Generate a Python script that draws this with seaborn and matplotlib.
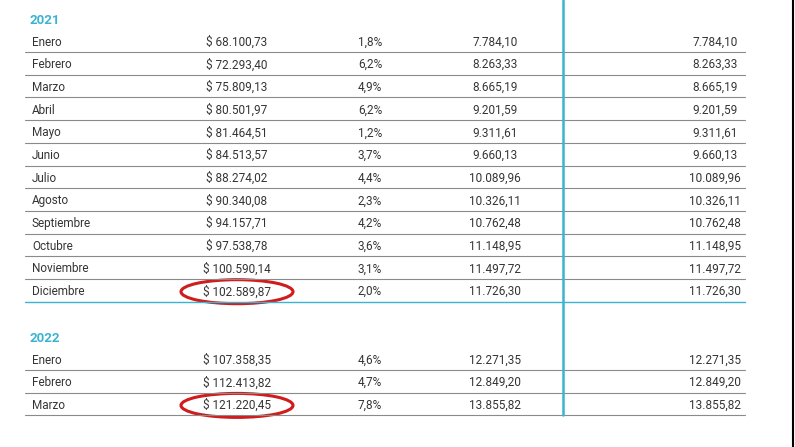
import matplotlib
matplotlib.use("Agg")
import matplotlib.pyplot as plt
from matplotlib.patches import Ellipse
import seaborn as sns

sns.set_theme(style="white", font="Roboto")

# data
meses_2021 = ["Enero", "Febrero", "Marzo", "Abril", "Mayo", "Junio", "Julio",
              "Agosto", "Septiembre", "Octubre", "Noviembre", "Diciembre"]
monto_2021 = ["$ 68.100,73", "$ 72.293,40", "$ 75.809,13", "$ 80.501,97", "$ 81.464,51",
              "$ 84.513,57", "$ 88.274,02", "$ 90.340,08", "$ 94.157,71", "$ 97.538,78",
              "$ 100.590,14", "$ 102.589,87"]
var_2021 = ["1,8%", "6,2%", "4,9%", "6,2%", "1,2%", "3,7%", "4,4%", "2,3%", "4,2%",
            "3,6%", "3,1%", "2,0%"]
val_2021 = ["7.784,10", "8.263,33", "8.665,19", "9.201,59", "9.311,61", "9.660,13",
            "10.089,96", "10.326,11", "10.762,48", "11.148,95", "11.497,72", "11.726,30"]
meses_2022 = ["Enero", "Febrero", "Marzo"]
monto_2022 = ["$ 107.358,35", "$ 112.413,82", "$ 121.220,45"]
var_2022 = ["4,6%", "4,7%", "7,8%"]
val_2022 = ["12.271,35", "12.849,20", "13.855,82"]

teal = "#3bb4d0"
grey = "#8a8a8a"
txt = "#333333"
fs = 8.5

fig = plt.figure(figsize=(7.95, 4.47), dpi=100)
ax = fig.add_axes([0, 0, 1, 1])
ax.set_xlim(0, 795)
ax.set_ylim(447, 0)
ax.axis("off")

cols = [32, 237, 370, 495, 715]
row_h = 22.7


def block(y0, year, meses, montos, vars_, vals, last_teal):
    ax.text(30, y0, year, color=teal, fontsize=9.5, fontweight="bold", va="center")
    for i, m in enumerate(meses):
        y = y0 + 22 + i * row_h
        ax.text(cols[0], y, m, fontsize=fs, color=txt, va="center")
        ax.text(cols[1], y, montos[i], fontsize=fs, color=txt, va="center", ha="center")
        ax.text(cols[2], y, vars_[i], fontsize=fs, color=txt, va="center", ha="center")
        ax.text(cols[3], y, vals[i], fontsize=fs, color=txt, va="center", ha="center")
        ax.text(cols[4], y, vals[i], fontsize=fs, color=txt, va="center", ha="center")
        ly = y + 10
        last = i == len(meses) - 1
        ax.plot([25, 745], [ly, ly], color=teal if (last and last_teal) else grey,
                lw=1.0 if (last and last_teal) else 0.8)
    return y0 + 22 + (len(meses) - 1) * row_h


y_dic = block(20, "2021", meses_2021, monto_2021, var_2021, val_2021, True)
y_mar = block(338, "2022", meses_2022, monto_2022, var_2022, val_2022, False)

# vertical separator and right border
ax.plot([563, 563], [0, 415], color=teal, lw=1.8)
ax.plot([793, 793], [0, 447], color="black", lw=1.5)

# red circles
for y in (y_dic, y_mar):
    ax.add_patch(Ellipse((237, y), 112, 24, fill=False, ec="#d01c1c", lw=2.2))

fig.savefig("out.png", dpi=100, facecolor="white")
